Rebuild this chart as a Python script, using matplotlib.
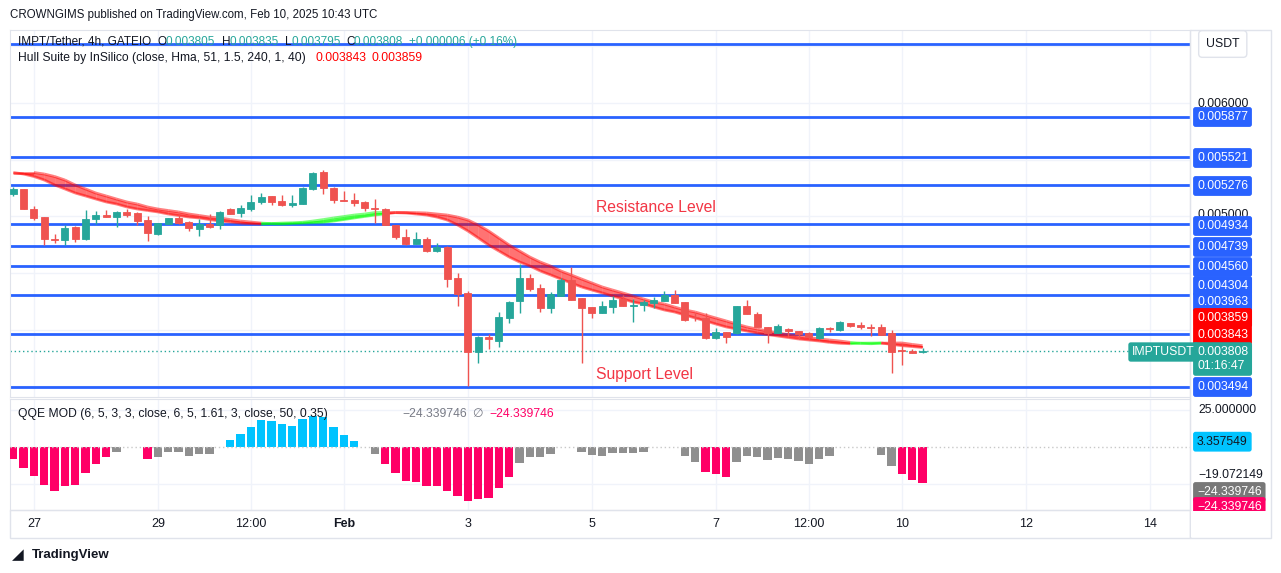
import numpy as np
import pandas as pd
import matplotlib
matplotlib.use("Agg")
import matplotlib.pyplot as plt
import matplotlib.dates as mdates
from matplotlib.patches import Rectangle

plt.rcParams['font.family'] = ['Liberation Sans', 'DejaVu Sans']

W, H = 1281, 573

# IMPT/Tether 4h candles (Jan 26 16:00 -> Feb 10 08:00)
opens = [0.005198, 0.005242, 0.005065, 0.004995, 0.004800, 0.004791, 0.004906, 0.004800, 0.004977, 0.005012,
         0.004995, 0.005038, 0.005030, 0.004968, 0.004844, 0.004933, 0.004986, 0.004950, 0.004888, 0.004933,
         0.004924, 0.005065, 0.005030, 0.005065, 0.005127, 0.005180, 0.005136, 0.005100, 0.005109, 0.005242,
         0.005392, 0.005250, 0.005144, 0.005144, 0.005127, 0.005074, 0.005065, 0.004924, 0.004818, 0.004756,
         0.004800, 0.004694, 0.004730, 0.004456, 0.004324, 0.003803, 0.003935, 0.003900, 0.004103, 0.004253,
         0.004456, 0.004368, 0.004191, 0.004297, 0.004438, 0.004280, 0.004200, 0.004147, 0.004200, 0.004271,
         0.004209, 0.004218, 0.004235, 0.004253, 0.004306, 0.004244, 0.004115, 0.004103, 0.003926, 0.003979,
         0.003971, 0.004209, 0.004138, 0.004024, 0.003971, 0.004006, 0.003988, 0.003971, 0.003926, 0.004015,
         0.003997, 0.004059, 0.004041, 0.004024, 0.004024, 0.003971, 0.003821, 0.003812, 0.003805]
highs = [0.005260, 0.005245, 0.005091, 0.004997, 0.004844, 0.004924, 0.004915, 0.005056, 0.005047, 0.005056,
         0.005047, 0.005065, 0.005038, 0.005003, 0.004945, 0.004990, 0.005021, 0.004959, 0.004977, 0.005021,
         0.005047, 0.005070, 0.005100, 0.005189, 0.005206, 0.005183, 0.005189, 0.005189, 0.005255, 0.005392,
         0.005409, 0.005259, 0.005224, 0.005206, 0.005136, 0.005153, 0.005070, 0.004926, 0.004888, 0.004862,
         0.004818, 0.004765, 0.004735, 0.004500, 0.004341, 0.003940, 0.003962, 0.004156, 0.004253, 0.004580,
         0.004491, 0.004403, 0.004332, 0.004456, 0.004553, 0.004283, 0.004203, 0.004253, 0.004297, 0.004306,
         0.004271, 0.004262, 0.004288, 0.004341, 0.004350, 0.004248, 0.004147, 0.004147, 0.004015, 0.003983,
         0.004212, 0.004262, 0.004156, 0.004027, 0.004050, 0.004015, 0.003991, 0.003979, 0.004024, 0.004024,
         0.004077, 0.004062, 0.004068, 0.004050, 0.004050, 0.003997, 0.003865, 0.003830, 0.003835]
lows = [0.005180, 0.005063, 0.004968, 0.004747, 0.004765, 0.004747, 0.004774, 0.004795, 0.004933, 0.004993,
        0.004906, 0.004995, 0.004924, 0.004783, 0.004840, 0.004930, 0.004933, 0.004871, 0.004827, 0.004897,
        0.004888, 0.005018, 0.004995, 0.005047, 0.005109, 0.005100, 0.005091, 0.005083, 0.005105, 0.005233,
        0.005198, 0.005118, 0.005133, 0.005091, 0.005047, 0.004941, 0.004920, 0.004800, 0.004747, 0.004752,
        0.004690, 0.004685, 0.004377, 0.004209, 0.003503, 0.003706, 0.003830, 0.003847, 0.004059, 0.004147,
        0.004341, 0.004156, 0.004147, 0.004295, 0.004258, 0.003706, 0.004103, 0.004143, 0.004147, 0.004205,
        0.004068, 0.004165, 0.004191, 0.004250, 0.004232, 0.004080, 0.004077, 0.003918, 0.003922, 0.003882,
        0.003962, 0.004135, 0.004020, 0.003882, 0.003967, 0.003944, 0.003918, 0.003918, 0.003918, 0.003979,
        0.003988, 0.004024, 0.004006, 0.003944, 0.003950, 0.003618, 0.003688, 0.003790, 0.003795]
closes = [0.005242, 0.005065, 0.004986, 0.004800, 0.004791, 0.004897, 0.004800, 0.004977, 0.005012, 0.004995,
          0.005038, 0.005012, 0.004959, 0.004853, 0.004941, 0.004986, 0.004941, 0.004897, 0.004933, 0.004906,
          0.005038, 0.005021, 0.005074, 0.005127, 0.005171, 0.005127, 0.005100, 0.005118, 0.005250, 0.005383,
          0.005250, 0.005144, 0.005136, 0.005118, 0.005074, 0.005065, 0.004924, 0.004818, 0.004756, 0.004800,
          0.004694, 0.004730, 0.004447, 0.004315, 0.003803, 0.003935, 0.003918, 0.004112, 0.004244, 0.004456,
          0.004359, 0.004191, 0.004315, 0.004438, 0.004262, 0.004191, 0.004147, 0.004209, 0.004262, 0.004209,
          0.004218, 0.004244, 0.004262, 0.004306, 0.004235, 0.004085, 0.004108, 0.003926, 0.003979, 0.003935,
          0.004209, 0.004138, 0.004024, 0.003971, 0.004032, 0.003988, 0.003962, 0.003935, 0.004015, 0.004006,
          0.004068, 0.004032, 0.004024, 0.004015, 0.003953, 0.003803, 0.003812, 0.003794, 0.003808]

# Hull Suite (HMA 51) per candle
hma = [0.005387, 0.005374, 0.005352, 0.005321, 0.005277, 0.005242, 0.005206, 0.005180, 0.005153, 0.005127,
       0.005109, 0.005083, 0.005065, 0.005052, 0.005039, 0.005021, 0.005008, 0.004994, 0.004986, 0.004972,
       0.004959, 0.004950, 0.004941, 0.004936, 0.004933, 0.004937, 0.004941, 0.004944, 0.004948, 0.004959,
       0.004972, 0.004986, 0.004999, 0.005012, 0.005021, 0.005034, 0.005035, 0.005033, 0.005030, 0.005021,
       0.005012, 0.004994, 0.004968, 0.004924, 0.004871, 0.004809, 0.004747, 0.004694, 0.004641, 0.004597,
       0.004562, 0.004518, 0.004483, 0.004447, 0.004412, 0.004377, 0.004350, 0.004324, 0.004297, 0.004271,
       0.004244, 0.004227, 0.004200, 0.004174, 0.004156, 0.004129, 0.004103, 0.004077, 0.004050, 0.004024,
       0.004006, 0.003988, 0.003971, 0.003957, 0.003944, 0.003931, 0.003918, 0.003909, 0.003900, 0.003888,
       0.003880, 0.003876, 0.003881, 0.003882, 0.003883, 0.003870, 0.003859, 0.003851, 0.003843]

# QQE MOD histogram (nan = no bar), P pink / G gray / B blue
qqe = [-8.3, -14.1, -19.5, -25.8, -29.6, -26.5, -25.8, -17.5, -11.4, -7.2,
       -3.4, np.nan, np.nan, -8.1, -6.7, -3.8, -3.4, -6.1, -4.7, -5.1,
       np.nan, 4.5, 8.6, 13.3, 18.0, 17.5, 15.3, 13.9, 18.4, 20.9,
       19.8, 13.3, 7.9, 3.8, np.nan, -4.7, -11.6, -17.5, -22.9, -23.6,
       -26.5, -26.5, -29.6, -33.0, -36.4, -35.2, -34.3, -28.0, -20.2, -10.8,
       -6.7, -7.2, -4.7, np.nan, np.nan, -3.8, -5.8, -6.1, -4.0, -4.0,
       -4.0, -3.4, np.nan, np.nan, np.nan, -6.1, -10.1, -16.8, -18.2, -20.2,
       -10.1, -6.1, -6.7, -9.0, -7.4, -8.3, -9.4, -11.4, -8.1, -6.1,
       np.nan, np.nan, np.nan, np.nan, -5.4, -12.8, -18.2, -22.2, -24.339746]
qqe_kind = "PPPPPPPPPPG--PGGGGGG-BBBBBBBBBBBBB-GPPPPPPPPPPPPPGGGG--GGGGGGG---GGPPPGGGGGGGGGG----GGPPP"

levels = [0.006518, 0.005877, 0.005521, 0.005276, 0.004934, 0.004739, 0.004560, 0.004304, 0.003963, 0.003494]
level_label_y = [None, 117, 158, 186, 226, 247, 267, 286, 302, 387]   # px, where TV stacks the tags

tick_times = ["2025-01-27 00:00", "2025-01-29 00:00", "2025-01-30 12:00", "2025-02-01 00:00",
              "2025-02-03 00:00", "2025-02-05 00:00", "2025-02-07 00:00", "2025-02-08 12:00",
              "2025-02-10 00:00", "2025-02-12 00:00", "2025-02-14 00:00"]
tick_labels = ["27", "29", "12:00", "Feb", "3", "5", "7", "12:00", "10", "12", "14"]

UP, DOWN = '#26a69a', '#ef5350'
BLUE = '#2962ff'
GRID = '#f0f3fa'
BORDER = '#e0e3eb'
TXT = '#131722'

times = pd.date_range("2025-01-26 16:00", periods=len(opens), freq="4h")
t = mdates.date2num(times)
o, h, l, c = map(np.array, (opens, highs, lows, closes))
hma = np.array(hma)

fig = plt.figure(figsize=(W / 100, H / 100), dpi=100)
fig.patch.set_facecolor('white')

def fx(x):
    return x / W

def fy(y):
    return 1 - y / H

ax = fig.add_axes([fx(10), fy(397), 1180 / W, 367 / H])
ax2 = fig.add_axes([fx(10), fy(510), 1180 / W, 111 / H], sharex=ax)

xlim = (t[0] - 0.053, t[0] + 18.98)
ax.set_xlim(*xlim)
ax.set_ylim(0.003406, 0.006645)
ax2.set_ylim(-42.6, 32.1)

ticks = mdates.date2num(pd.to_datetime(tick_times, format="%Y-%m-%d %H:%M"))
for a in (ax, ax2):
    for tk in ticks:
        a.axvline(tk, color=GRID, lw=1, zorder=0)
    for s in a.spines.values():
        s.set_color(BORDER)
    a.tick_params(left=False, labelleft=False, right=False, labelright=False)
for yv in np.arange(0.0035, 0.0066, 0.0005):
    ax.axhline(yv, color=GRID, lw=1, zorder=0)
for yv in (25, -25):
    ax2.axhline(yv, color=GRID, lw=1, zorder=0)

ax.tick_params(bottom=False, labelbottom=False)
ax2.set_xticks(ticks)
ax2.set_xticklabels(tick_labels, fontsize=9, color=TXT)
ax2.tick_params(axis='x', length=0, pad=6)
for lab in ax2.get_xticklabels():
    if lab.get_text() == "Feb":
        lab.set_fontweight('bold')

# horizontal levels
for lv in levels:
    ax.axhline(lv, color=BLUE, lw=2, zorder=1)

# current price line
ax.axhline(closes[-1], color=UP, lw=1, ls=(0, (1, 2)), zorder=2)

# Hull band
shull = np.concatenate([[hma[0], hma[0]], hma[:-2]])
for i in range(1, len(hma)):
    col = '#00ff00' if hma[i] > shull[i] else '#ff0000'
    xs = [t[i - 1], t[i]]
    ax.fill_between(xs, hma[i - 1:i + 1], shull[i - 1:i + 1], color=col, alpha=0.55, lw=0, zorder=2)
    ax.plot(xs, hma[i - 1:i + 1], color=col, alpha=0.5, lw=2, solid_capstyle='butt', zorder=2)
    ax.plot(xs, shull[i - 1:i + 1], color=col, alpha=0.5, lw=2, solid_capstyle='butt', zorder=2)

# candles
cols = np.where(c >= o, UP, DOWN)
width = 0.68 * 4 / 24
ax.vlines(t, l, h, colors=cols, lw=1, zorder=3)
ax.bar(t, np.abs(c - o), bottom=np.minimum(o, c), width=width, color=cols,
       edgecolor=cols, lw=0.6, zorder=4)

# QQE histogram
kind_col = {'P': '#ff0066', 'G': '#8f8f8f', 'B': '#00c3ff'}
q = np.array(qqe)
qcols = [kind_col.get(k, 'none') for k in qqe_kind]
ax2.bar(t, np.nan_to_num(q), width=0.8 * 4 / 24, color=qcols, zorder=3)
ax2.axhline(0, color='#c8c8c8', lw=1, ls=(0, (1, 2)), zorder=4)

# annotations
fig.text(fx(596), fy(207), "Resistance Level", color='#f23645', fontsize=11.3, va='center')
fig.text(fx(596), fy(375), "Support Level", color='#f23645', fontsize=11.3, va='center')

# header / legends
fig.text(fx(10), fy(15), "CROWNGIMS published on TradingView.com, Feb 10, 2025 10:43 UTC",
         fontsize=8.3, color=TXT, va='center')
leg1 = [(18, "IMPT/Tether, 4h, GATEIO", TXT), (158, "O", TXT), (165, "0.003805", UP),
        (222, "H", TXT), (230, "0.003835", UP), (285, "L", TXT), (292, "0.003795", UP),
        (346, "C", TXT), (354, "0.003808", UP), (409, "+0.000006 (+0.16%)", UP)]
for xx, s, col in leg1:
    fig.text(fx(xx), fy(42), s, fontsize=8.5, color=col, va='center')
fig.text(fx(18), fy(58), "Hull Suite by InSilico (close, Hma, 51, 1.5, 240, 1, 40)",
         fontsize=8.7, color=TXT, va='center')
fig.text(fx(315), fy(58), f"{hma[-1]:.6f}", fontsize=8.7, color='#ff0000', va='center')
fig.text(fx(371), fy(58), f"{shull[-1]:.6f}", fontsize=8.7, color='#ff0000', va='center')
fig.text(fx(18), fy(414), "QQE MOD (6, 5, 3, 3, close, 6, 5, 1.61, 3, close, 50, 0.35)",
         fontsize=8.7, color=TXT, va='center')
fig.text(fx(402), fy(414), f"\u2212{abs(qqe[-1]):.6f}", fontsize=8.7, color='#787b86', va='center')
fig.text(fx(472), fy(414), "\u2205", fontsize=8.7, color='#787b86', va='center')
fig.text(fx(489), fy(414), f"\u2212{abs(qqe[-1]):.6f}", fontsize=8.7, color='#ff0066', va='center')

# right price scale
def tag(y, s, fc, tc='white', x=1197):
    fig.text(fx(x), fy(y), s, fontsize=8.8, color=tc, va='center', ha='left',
             bbox=dict(boxstyle='round,pad=0.32,rounding_size=0.2', fc=fc, ec='none'))

fig.text(fx(1198), fy(104), "0.006000", fontsize=8.8, color=TXT, va='center')
fig.text(fx(1198), fy(215), "0.005000", fontsize=8.8, color=TXT, va='center')
for lv, yy in zip(levels, level_label_y):
    if yy is not None:
        tag(yy, f"{lv:.6f}", BLUE)
tag(318, f"{shull[-1]:.6f}", '#ff0000')
tag(335, f"{hma[-1]:.6f}", '#ff0000')
tag(359, f"{closes[-1]:.6f}\n01:16:47", UP)
fig.text(fx(1132), fy(352), "IMPTUSDT", fontsize=8.8, color='white', va='center',
         bbox=dict(boxstyle='round,pad=0.3,rounding_size=0.2', fc=UP, ec='none'))
fig.text(fx(1206), fy(44), "USDT", fontsize=8.8, color=TXT, va='center',
         bbox=dict(boxstyle='round,pad=0.6,rounding_size=0.3', fc='white', ec=BORDER))

fig.text(fx(1198), fy(410), "25.000000", fontsize=8.8, color=TXT, va='center')
tag(441.7, "3.357549", '#00c3ff', tc=TXT)
fig.text(fx(1198), fy(475), "\u221219.072149", fontsize=8.8, color=TXT, va='center')
tag(492, f"\u2212{abs(qqe[-1]):.6f}", '#787878')
tag(507, f"\u2212{abs(qqe[-1]):.6f}", '#ff0066')

# outer frame of price / time scales
fig.add_artist(Rectangle((fx(1190), fy(538)), 81 / W, 508 / H, fill=False, ec=BORDER, lw=1,
                         transform=fig.transFigure))
fig.add_artist(Rectangle((fx(10), fy(538)), 1180 / W, 28 / H, fill=False, ec=BORDER, lw=1,
                         transform=fig.transFigure))
# cover the part of the pink tag that falls below the pane
fig.add_artist(Rectangle((fx(1191), fy(537)), 79 / W, 26 / H, fc='white', ec='none',
                         transform=fig.transFigure, zorder=5))

fig.text(fx(12), fy(555), "\u25e2", fontsize=11, color=TXT, va='center')
fig.text(fx(32), fy(555), "TradingView", fontsize=9.5, fontweight='bold', color=TXT, va='center')

fig.savefig("out.png", dpi=100, facecolor='white')
